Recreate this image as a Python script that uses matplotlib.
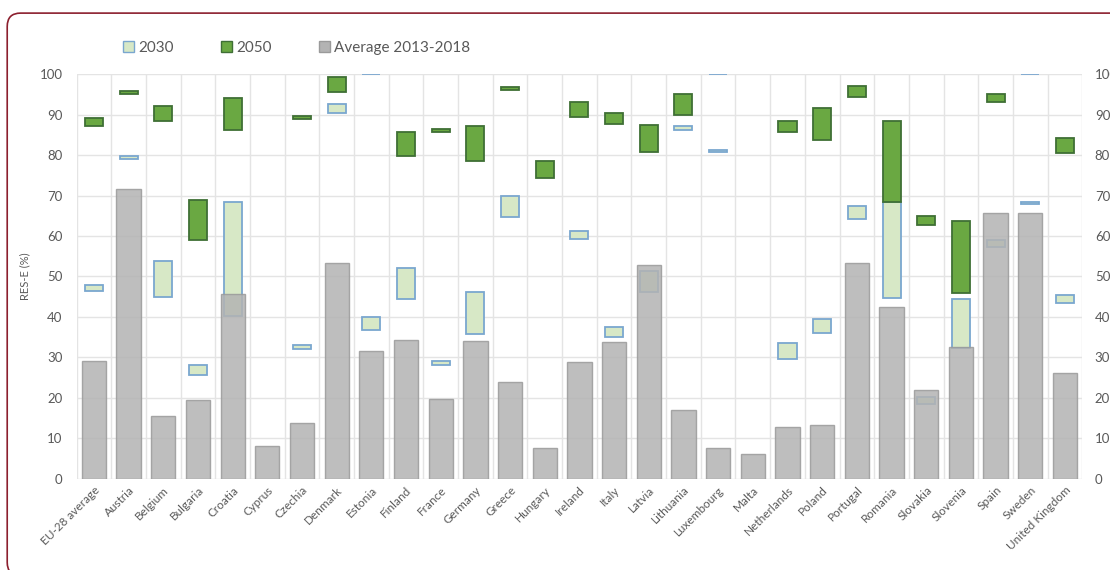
import matplotlib
matplotlib.use("Agg")
import matplotlib.pyplot as plt
from matplotlib.patches import Patch, FancyBboxPatch
import numpy as np

plt.rcParams['font.family'] = ['Lato', 'DejaVu Sans']

countries = ['EU-28 average', 'Austria', 'Belgium', 'Bulgaria', 'Croatia', 'Cyprus', 'Czechia',
             'Denmark', 'Estonia', 'Finland', 'France', 'Germany', 'Greece', 'Hungary', 'Ireland',
             'Italy', 'Latvia', 'Lithuania', 'Luxembourg', 'Malta', 'Netherlands', 'Poland',
             'Portugal', 'Romania', 'Slovakia', 'Slovenia', 'Spain', 'Sweden', 'United Kingdom']

# average RES-E share 2013-2018
avg_2013_2018 = [29.0, 71.6, 15.5, 19.5, 45.6, 8.2, 13.8, 53.3, 31.7, 34.3, 19.8, 34.0, 23.8, 7.6,
                 28.9, 33.9, 52.8, 17.1, 7.5, 6.2, 12.9, 13.2, 53.3, 42.4, 22.0, 32.5, 65.8, 65.8, 26.1]

# 2030 range (low, high); None = no value
low_2030 = [46.3, 79.1, 44.8, 25.6, 40.2, None, 32.0, 90.3, 36.8, 44.4, 28.0, 35.9, 64.6, None,
            59.2, 35.1, 46.2, 86.1, 80.7, None, 29.5, 36.1, 64.2, 44.6, 18.5, 32.2, 57.4, 67.8, 43.5]
high_2030 = [47.9, 79.8, 53.8, 28.2, 68.3, None, 33.1, 92.6, 40.1, 52.1, 29.0, 46.2, 69.9, None,
             61.3, 37.6, 51.4, 87.2, 81.2, None, 33.6, 39.6, 67.3, 68.4, 20.1, 44.4, 58.9, 68.4, 45.4]

# 2050 range (low, high)
low_2050 = [87.1, 95.0, 88.5, 58.9, 86.1, None, 88.8, 95.6, 100.0, 79.7, 85.6, 78.5, 96.0, 74.4,
            89.3, 87.6, 80.8, 89.9, 100.0, None, 85.8, 83.8, 94.4, 68.4, 62.7, 45.8, 93.2, 100.0, 80.5]
high_2050 = [89.2, 95.8, 92.0, 68.9, 94.2, None, 89.6, 99.3, 100.0, 85.8, 86.4, 87.1, 96.9, 78.6,
             93.0, 90.5, 87.4, 95.0, 100.0, None, 88.5, 91.5, 97.0, 88.3, 65.0, 63.6, 95.1, 100.0, 84.1]

txt = '#595959'
fig = plt.figure(figsize=(11.1, 5.7), dpi=100)
ax = fig.add_axes([0.069, 0.160, 0.906, 0.710])

x = np.arange(len(countries))


def ranges(lo, hi):
    xs, b, h = [], [], []
    for i, (l, u) in enumerate(zip(lo, hi)):
        if l is None:
            continue
        xs.append(i)
        b.append(l)
        h.append(u - l)
    return xs, b, h


x30, b30, h30 = ranges(low_2030, high_2030)
x50, b50, h50 = ranges(low_2050, high_2050)
edge50 = ['#7aa7cf' if hh == 0 else '#3f6f35' for hh in h50]

ax.bar(x30, h30, bottom=b30, width=0.52, color='#d7e8c6', edgecolor='#7aa7cf', linewidth=1.3, zorder=3)
ax.bar(x50, h50, bottom=b50, width=0.52, color='#6aa842', edgecolor=edge50, linewidth=1.3, zorder=3)
ax.bar(x, avg_2013_2018, width=0.7, color='#b3b3b3', alpha=0.85, edgecolor='#9a9a9a',
       linewidth=1.0, zorder=4)

ax.set_xlim(-0.5, len(countries) - 0.5)
ax.set_ylim(0, 100)
ax.set_yticks(range(0, 101, 10))
ax.set_xticks(x)
ax.set_xticklabels(countries, rotation=45, ha='right', rotation_mode='anchor', fontsize=8.5, color=txt)
ax.set_xticks(np.arange(-0.5, len(countries), 1), minor=True)
ax.grid(True, which='minor', axis='x', color='#e4e4e4', linewidth=1.0, zorder=0)
ax.grid(True, which='major', axis='y', color='#e4e4e4', linewidth=1.0, zorder=0)
ax.tick_params(axis='both', which='both', length=0)
ax.tick_params(axis='y', labelsize=9.5, labelcolor=txt, pad=10)
ax.tick_params(axis='x', pad=4)
for s in ax.spines.values():
    s.set_visible(False)
ax.set_ylabel('RES-E (%)', fontsize=8, color=txt, labelpad=7)

ax2 = ax.twinx()
ax2.set_ylim(0, 100)
ax2.set_yticks(range(0, 101, 10))
ax2.tick_params(axis='y', length=0, labelsize=9.5, labelcolor=txt, pad=9)
for s in ax2.spines.values():
    s.set_visible(False)

handles = [Patch(facecolor='#d7e8c6', edgecolor='#7aa7cf', label='2030'),
           Patch(facecolor='#6aa842', edgecolor='#3f6f35', label='2050'),
           Patch(facecolor='#b3b3b3', edgecolor='#9a9a9a', label='Average 2013-2018')]
leg = fig.legend(handles=handles, loc='center left', bbox_to_anchor=(0.098, 0.916), ncol=3,
                 frameon=False, fontsize=11, handlelength=0.75, handleheight=0.75,
                 handletextpad=0.25, columnspacing=3.1)
for t in leg.get_texts():
    t.set_color(txt)

frame = FancyBboxPatch((0.0065, -0.01), 1.1, 0.987, boxstyle='round,pad=0,rounding_size=0.012',
                       transform=fig.transFigure, fill=False, edgecolor='#8c1f2e',
                       linewidth=1.2, clip_on=False, mutation_aspect=1.95)
fig.patches.append(frame)

fig.savefig('out.png', dpi=100)
